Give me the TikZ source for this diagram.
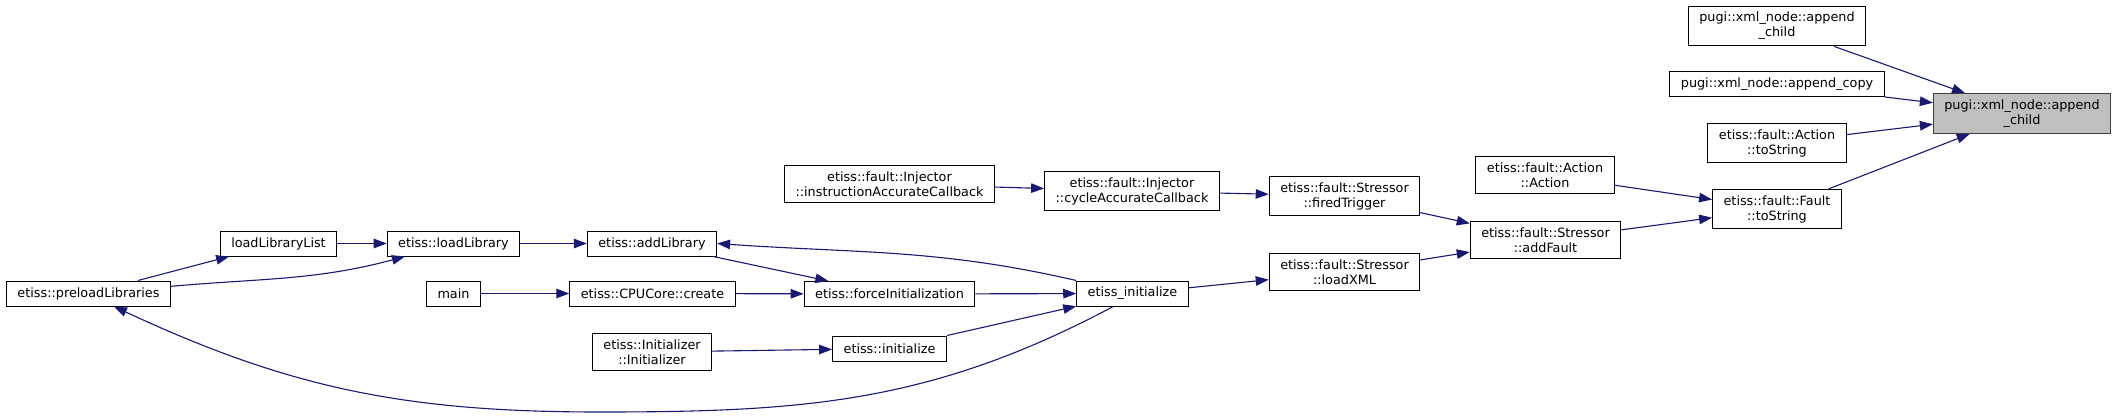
\documentclass[tikz,border=0pt]{standalone}
\usepackage{fontspec}
\setmainfont{DejaVu Sans}
\usepackage{tikz}
\usetikzlibrary{
  arrows.meta,
  positioning,
  calc
}
\definecolor{cgEdge}{HTML}{191970}
\definecolor{cgFocus}{HTML}{BFBFBF}
\definecolor{cgLine}{HTML}{404040}
\tikzset{
  fnnode/.style={
    draw=black, line width=1pt, fill=white, inner xsep=11pt, inner ysep=6pt,
    minimum height=25pt, align=center, font=\fontsize{12.8}{15}\selectfont
  },
  fnfocus/.style={fnnode, fill=cgFocus, draw=cgLine},
  calls/.style={-{Triangle[length=13pt, width=9.5pt]}, line width=1.1pt, cgEdge}
}

\begin{document}
\begin{tikzpicture}[x=1pt, y=1pt]
  \useasboundingbox (0,0) rectangle (2117,-418);
  % right part: the function and its direct callers
  \node[fnfocus] (ac) at (2022,-113.5) {pugi::xml\_node::append\\\_child};
  \node[fnnode] (act) at (1777,-26) {pugi::xml\_node::append\\\_child};
  \node[fnnode] (acp) at (1777,-84) {pugi::xml\_node::append\_copy};
  \node[fnnode] (ats) at (1777,-143) {etiss::fault::Action\\::toString};
  \node[fnnode] (fts) at (1777,-209) {etiss::fault::Fault\\::toString};
  \node[fnnode] (aa) at (1545,-175) {etiss::fault::Action\\::Action};
  \node[fnnode] (af) at (1545.5,-240) {etiss::fault::Stressor\\::addFault};
  \node[fnnode] (ft) at (1344.5,-196) {etiss::fault::Stressor\\::firedTrigger};
  \node[fnnode] (lx) at (1344.5,-272) {etiss::fault::Stressor\\::loadXML};
  \node[fnnode] (cc) at (1132,-191) {etiss::fault::Injector\\::cycleAccurateCallback};
  \node[fnnode] (ic) at (889.5,-184) {etiss::fault::Injector\\::instructionAccurateCallback};
  % left part
  \node[fnnode] (ei) at (1132.5,-293.5) {etiss\_initialize};
  \node[fnnode] (fi) at (889.5,-294) {etiss::forceInitialization};
  \node[fnnode] (in) at (889.5,-348.5) {etiss::initialize};
  \node[fnnode] (cr) at (652.5,-293.5) {etiss::CPUCore::create};
  \node[fnnode] (al) at (652,-243.5) {etiss::addLibrary};
  \node[fnnode] (ii) at (652,-352) {etiss::Initializer\\::Initializer};
  \node[fnnode] (mn) at (453.5,-293.5) {main};
  \node[fnnode] (ll) at (453.5,-243.5) {etiss::loadLibrary};
  \node[fnnode] (lll) at (278.5,-243.5) {loadLibraryList};
  \node[fnnode] (pl) at (88.5,-293.5) {etiss::preloadLibraries};
  \coordinate (low) at (600,-412);

  \draw[calls] (act) -- (ac);
  \draw[calls] (acp) -- (ac);
  \draw[calls] (ats) -- (ac);
  \draw[calls] (fts) -- (ac);
  \draw[calls] (aa) -- (fts);
  \draw[calls] (af) -- (fts);
  \draw[calls] (ft) -- (af);
  \draw[calls] (lx) -- (af);
  \draw[calls] (cc) -- (ft);
  \draw[calls] (ic) -- (cc);
  \draw[calls] (ei) -- (lx);
  \draw[calls] (fi) -- (ei);
  \draw[calls] (in) -- (ei);
  \draw[calls] (ii) -- (in);
  \draw[calls] (cr) -- (fi);
  \draw[calls] (mn) -- (cr);
  \draw[calls] (al) -- (fi);
  \draw[calls] (ll) -- (al);
  \draw[calls] (lll) -- (ll);
  \draw[calls] (pl) -- (lll);
  \draw[calls] (pl) to[out=5, in=195] (ll);
  \draw[calls] (ei.north west) to[out=167, in=-4] (al.east);
  \draw[calls] (ei.214) to[out=208, in=0] (low) to[out=180, in=-25] (pl.-27);
\end{tikzpicture}
\end{document}
